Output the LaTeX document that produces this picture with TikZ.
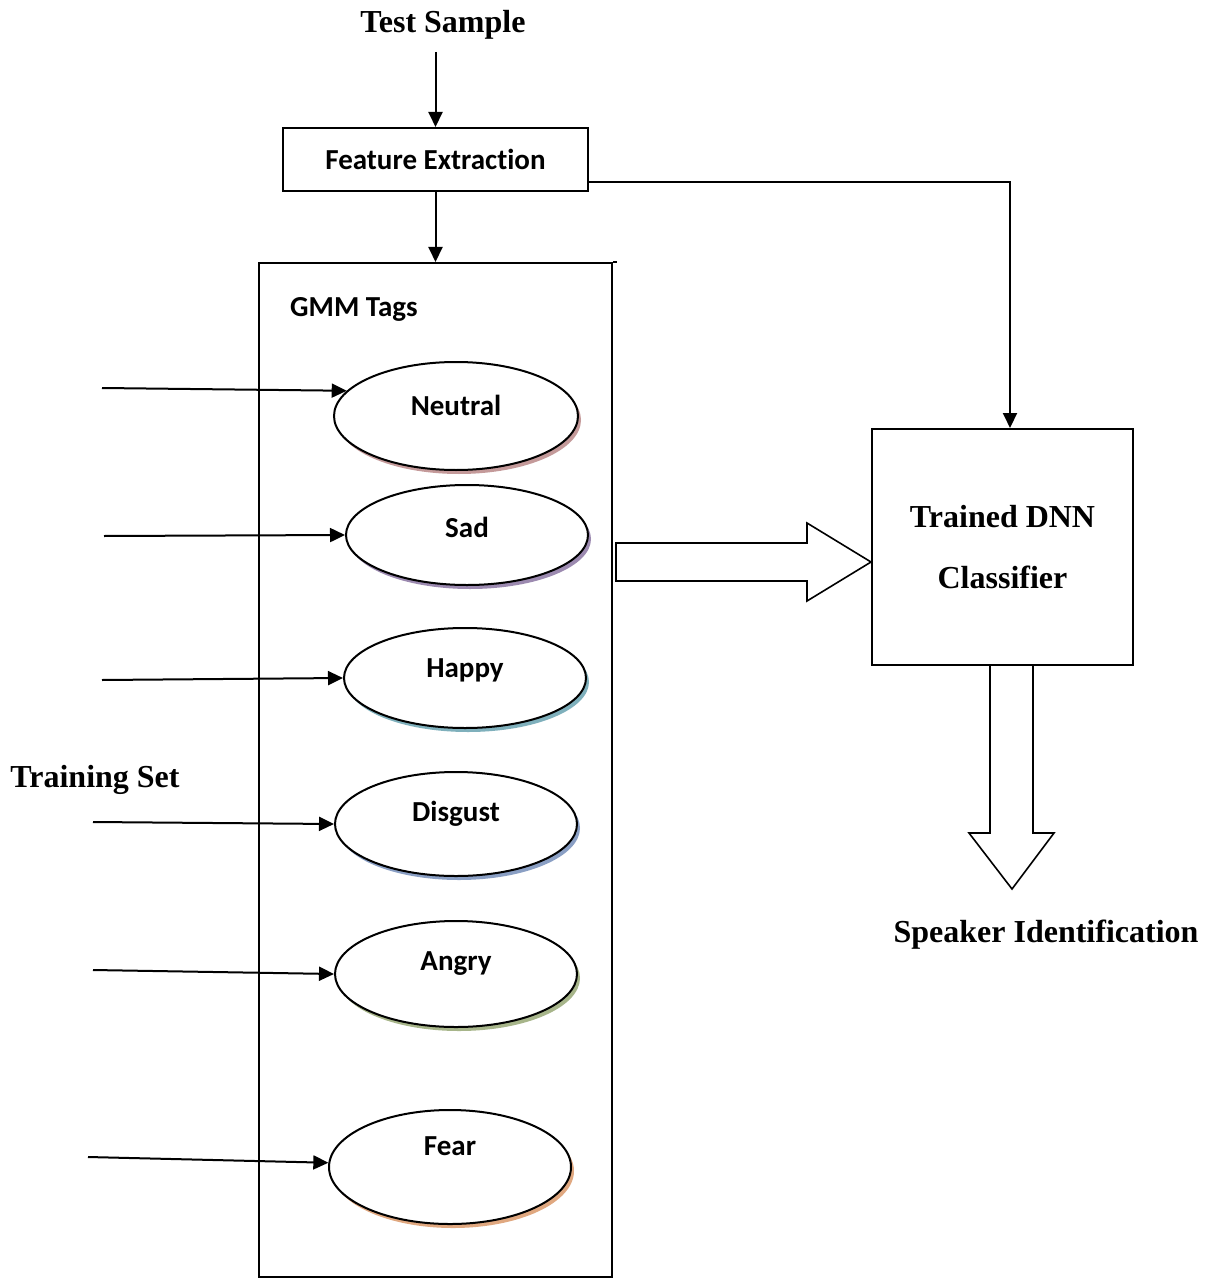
\documentclass[tikz,border=0pt]{standalone}
\usepackage{fontspec}
\setmainfont{Liberation Serif}
\newfontfamily\calfont[Ligatures=NoCommon]{Carlito}
\usetikzlibrary{arrows.meta,shapes.geometric}
\definecolor{shNeutral}{HTML}{C49A9A}
\definecolor{shSad}{HTML}{9C8AB0}
\definecolor{shHappy}{HTML}{7FB0BC}
\definecolor{shDisgust}{HTML}{8A9FC4}
\definecolor{shAngry}{HTML}{A7B58A}
\definecolor{shFear}{HTML}{E0A880}
\begin{document}
\begin{tikzpicture}[x=0.5pt,y=-0.5pt,line width=1pt,
  tip/.style={-{Triangle[length=7.5pt,width=7pt]}},
  cal/.style={font=\calfont\bfseries\fontsize{14.5}{17}\selectfont},
  tms/.style={font=\bfseries\fontsize{16}{19}\selectfont},
  emo/.style={ellipse,draw,line width=1pt,fill=white,inner sep=0pt,
    minimum width=121pt,
    preaction={fill=#1,transform canvas={xshift=1.5pt,yshift=-2pt}}},
  boxst/.style={draw,line width=1pt,rectangle,inner sep=0pt},
  blk/.style={draw,line width=0.8pt,line join=miter}]
\useasboundingbox (0,0) rectangle (1209,1278);

% titles
\node[tms] (ts) at (443,25) {Test Sample};
\coordinate (tsa) at (435.5,52);

% feature extraction
\node[boxst,cal,minimum width=152.5pt,minimum height=31.5pt] (fe) at (435.5,159.5) {Feature Extraction};

% GMM box
\node[boxst,minimum width=176.5pt,minimum height=507pt] (gmm) at (435.5,770) {};
\draw (gmm.north east) -- ++(4,0);
\node[cal] (gmmt) at (354,309) {GMM Tags};

% ellipses
\node[emo=shNeutral,minimum width=122pt,minimum height=54pt] (n) at (456,416) {};
\node[emo=shSad,minimum height=50pt] (s) at (467,535) {};
\node[emo=shHappy,minimum height=50pt] (h) at (465,678) {};
\node[emo=shDisgust,minimum height=52pt] (d) at (456,824) {};
\node[emo=shAngry,minimum height=53pt] (a) at (456,974) {};
\node[emo=shFear,minimum height=57pt] (f) at (450,1167) {};

\node[cal] (nt) at (456,405) {Neutral};
\node[cal] (st) at (467,527) {Sad};
\node[cal] (ht) at (465,670) {Happy};
\node[cal] (dt) at (456,814) {Disgust};
\node[cal] (at) at (456,964) {Angry};
\node[cal] (ft) at (450,1146) {Fear};

% training arrows
\node[tms] (train) at (95,780) {Training Set};
\coordinate (t1) at (102,388);
\coordinate (t2) at (104,536);
\coordinate (t3) at (102,680);
\coordinate (t4) at (93,822);
\coordinate (t5) at (93,970);
\coordinate (t6) at (88,1157);
\draw[tip] (t1) -- (n.167);
\draw[tip] (t2) -- (s.west);
\draw[tip] (t3) -- (h.west);
\draw[tip] (t4) -- (d.west);
\draw[tip] (t5) -- (a.west);
\draw[tip] (t6) -- (f.178);

% DNN
\node[boxst,tms,minimum width=130.5pt,minimum height=118pt,align=center,
  font=\bfseries\fontsize{16}{30.5}\selectfont] (dnn) at (1002.5,547) {Trained DNN\\Classifier};

% connectors
\draw[tip] (tsa) -- (fe.north);
\draw[tip] (fe.south) -- (gmm.north);
\draw[tip] ([yshift=-11.25pt]fe.east) -| ([xshift=3.75pt]dnn.north);

% block arrows
\draw[blk] (616,543) -- (807,543) -- (807,523) -- (871,562) -- (807,601) -- (807,581) -- (616,581) -- cycle;
\draw[blk] (990,665) -- (990,833) -- (969,833) -- (1012,889) -- (1054,833) -- (1033,833) -- (1033,665);

\node[tms] (spk) at (1046,935) {Speaker Identification};
\end{tikzpicture}
\end{document}
